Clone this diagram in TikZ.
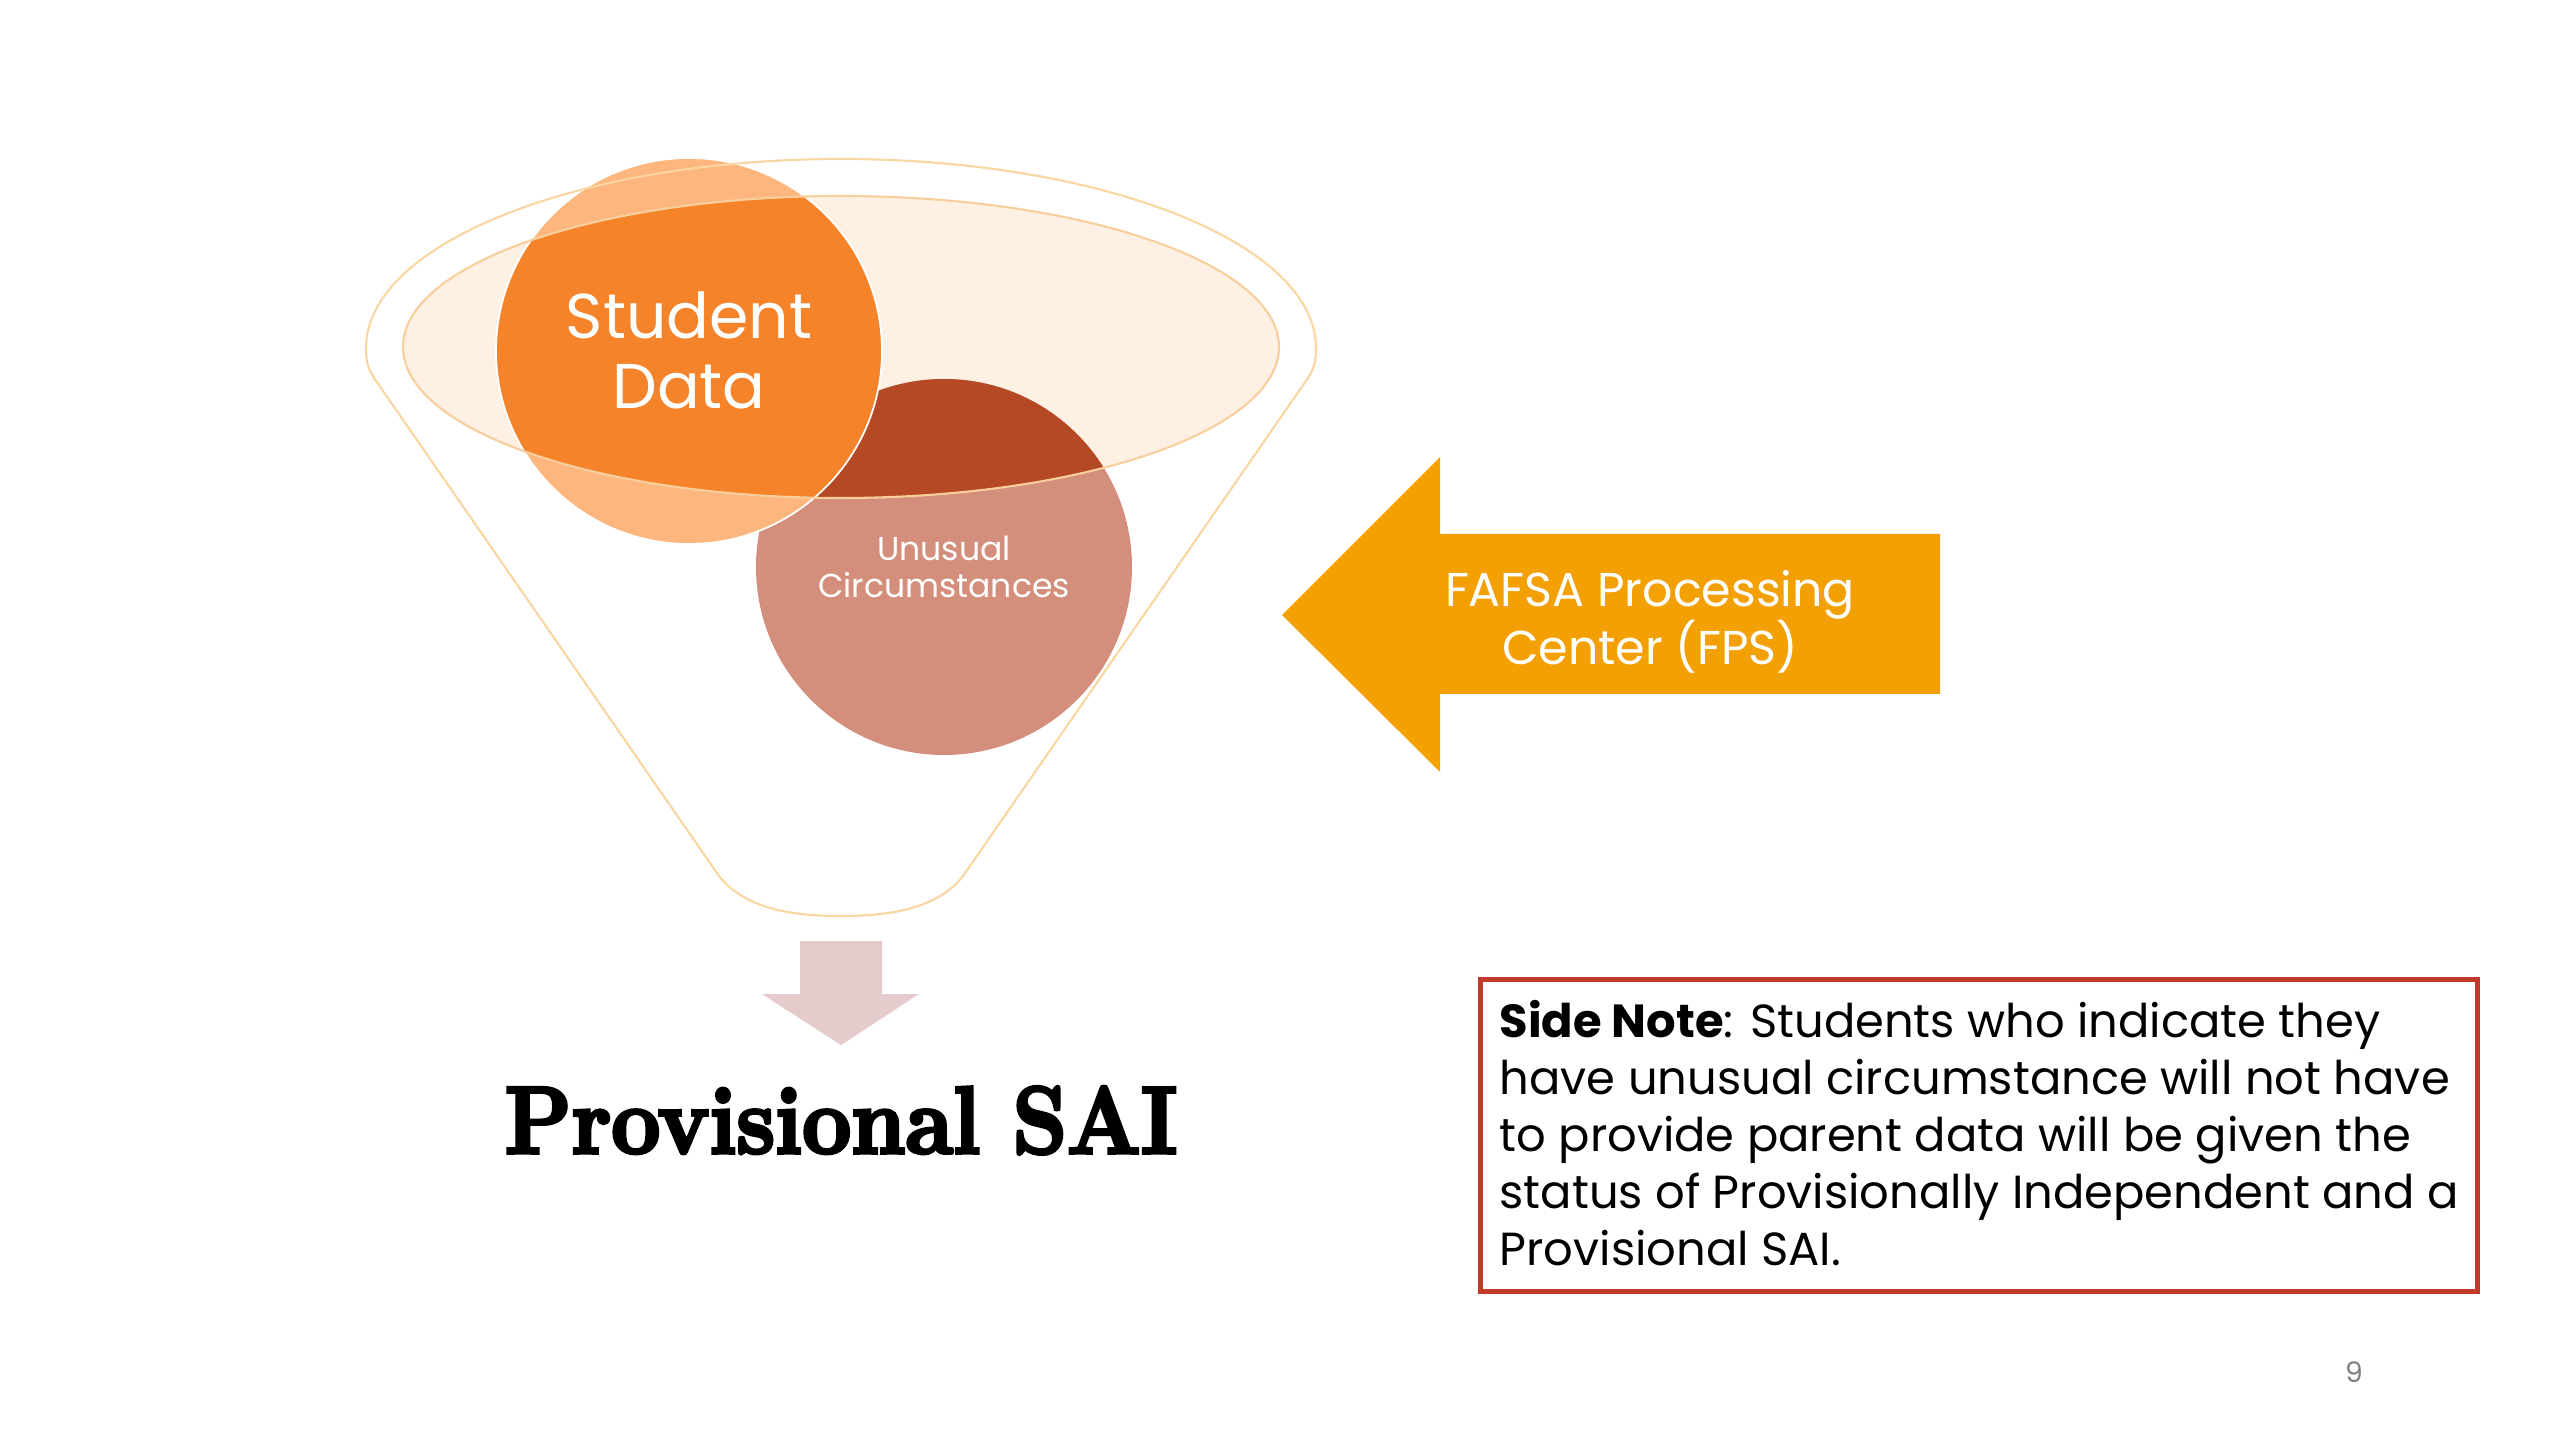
\documentclass[tikz,border=0pt]{standalone}
\usepackage{fontspec}
\newfontfamily\gothic{Poppins}
\newfontfamily\fatface{Latin Modern Roman}[BoldFeatures={FakeBold=4}]
\definecolor{rimline}{HTML}{FAD7A2}
\definecolor{innerfill}{HTML}{FEF1E4}
\definecolor{innerline}{HTML}{F8CF9C}
\definecolor{studvivid}{HTML}{F5832A}
\definecolor{studlight}{HTML}{FDB67E}
\definecolor{unudark}{HTML}{B54825}
\definecolor{unulight}{HTML}{D38F7B}
\definecolor{fpsorange}{HTML}{F2A004}
\definecolor{downpink}{HTML}{E5CBCB}
\definecolor{boxred}{HTML}{C0392B}
\tikzset{
  whitetext/.style={text=white, align=center, inner sep=0pt},
}
\begin{document}
\begin{tikzpicture}[x=0.01cm,y=-0.01cm]
\useasboundingbox[fill=white] (0,0) rectangle (2560,1440);
% inner ellipse of the funnel
\fill[innerfill] (841,347) ellipse [x radius=438, y radius=151];
% Unusual circumstances circle
\fill[unulight] (944,567) circle [radius=188];
\begin{scope}
  \clip (841,347) ellipse [x radius=438, y radius=151];
  \fill[unudark] (944,567) circle [radius=188];
\end{scope}
% Student data circle
\fill[studlight] (689,351) circle [radius=193];
\begin{scope}
  \clip (841,347) ellipse [x radius=438, y radius=151];
  \fill[studvivid] (689,351) circle [radius=193];
\end{scope}
\draw[white, line width=0.5pt] (689,351) circle [radius=193];
% ellipse outline
\draw[innerline, line width=0.6pt] (841,347) ellipse [x radius=438, y radius=151];
% funnel outline
\draw[rimline, line width=0.6pt]
  (366,348) arc [start angle=180, end angle=360, x radius=475, y radius=189]
  .. controls (1316,362) and (1314,368) .. (1308,378)
  -- (963,876)
  .. controls (935,912) and (880,916) .. (841,916)
  .. controls (802,916) and (747,912) .. (719,876)
  -- (374,378)
  .. controls (368,368) and (366,362) .. (366,348) -- cycle;
% labels in circles
\node[whitetext, font=\gothic\fontsize{18}{19.9}\selectfont] (stud) at (689,350) {Student\\Data};
\node[whitetext, font=\gothic\fontsize{9.4}{10.7}\selectfont] (unu) at (944,567) {Unusual\\Circumstances};
% FPS arrow
\fill[fpsorange] (1282,615) -- (1440,457) -- (1440,534) -- (1940,534) -- (1940,694) -- (1440,694) -- (1440,772) -- cycle;
\node[whitetext, font=\gothic\fontsize{13.5}{16.5}\selectfont] (fps) at (1650,622) {FAFSA Processing\\Center (FPS)};
% down arrow
\fill[downpink] (800,941) -- (882,941) -- (882,994) -- (919,994) -- (841,1045) -- (762,994) -- (800,994) -- cycle;
% Provisional SAI
\node[anchor=base, inner sep=0pt, font=\fatface\bfseries\fontsize{27}{30}\selectfont] (sai) at (841,1153) {\scalebox{0.915}[1]{Provisional SAI}};
% side note box
\node[draw=boxred, line width=1.4pt, minimum width=9.96cm, minimum height=3.12cm, anchor=north west, inner sep=0pt] (note) at (1478,977) {};
\node[anchor=base west, align=left, inner sep=0pt, font=\gothic\fontsize{13.2}{16.2}\selectfont] (notetext) at (1499,1265)
  {\textbf{Side Note}: Students who indicate they\\have unusual circumstance will not have\\to provide parent data will be given the\\status of Provisionally Independent and a\\Provisional SAI.};
% page number
\node[text=gray, font=\gothic\fontsize{8}{9}\selectfont, inner sep=0pt] (pagenum) at (2354,1372) {9};
\end{tikzpicture}
\end{document}
